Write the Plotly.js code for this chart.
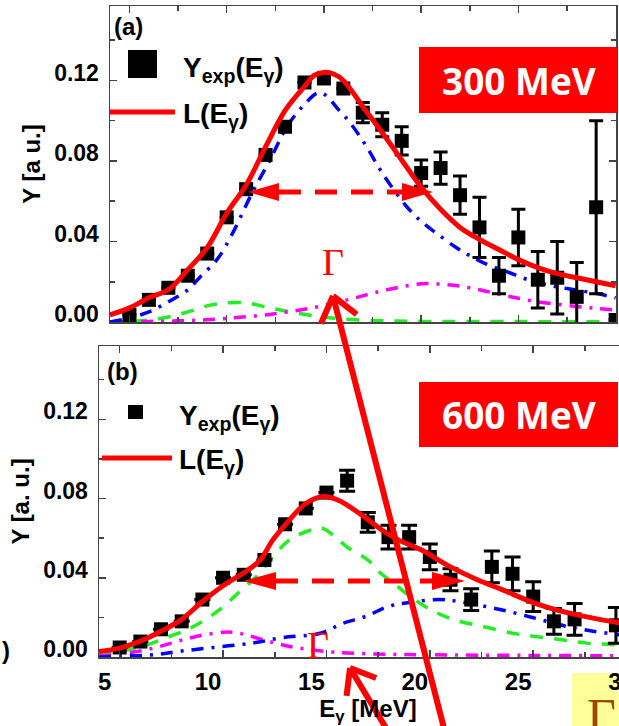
<!DOCTYPE html>
<html><head><meta charset="utf-8">
<script src="https://cdn.plot.ly/plotly-3.0.1.min.js"></script>
<style>html,body{margin:0;padding:0;overflow:hidden;background:#fff;width:619px;height:726px}</style>
</head><body><div id="chart" style="width:640px;height:726px"></div>
<script>
// ---------- Panel (a): 300 MeV ----------
const eA   = [5,6,7,8,9,10,11,12,13,14,15,16,17,18,19,20,21,22,23,24,25,26,27,28,29,30];
const yA   = [0.0035,0.011,0.017,0.023,0.034,0.052,0.066,0.083,0.097,0.119,0.121,0.116,0.104,0.098,0.090,0.074,0.0765,0.063,0.047,0.023,0.042,0.021,0.022,0.0125,0.057,0.001];
const errA = [0,0,0,0,0,0,0,0,0,0,0,0,0.005,0.006,0.007,0.0065,0.008,0.0095,0.015,0.009,0.014,0.014,0.018,0.017,0.043,0];

const LxA = [4,5,6,7,8,9,10,11,12,13,14,14.5,15,15.5,16,17,18,19,20,21,22,23,24,25,26,27,28,29,30];
const LyA = [0.0035,0.007,0.012,0.016,0.026,0.037,0.054,0.068,0.087,0.105,0.117,0.1225,0.124,0.1232,0.120,0.107,0.094,0.0805,0.067,0.056,0.047,0.041,0.036,0.031,0.027,0.024,0.022,0.020,0.018];

const BxA = [4,5,6,7,8,8.6,9.5,10.3,11.3,12.2,13.1,13.9,14.8,15.8,16.5,17.2,18,19.2,20,20.8,21.8,22.5,23.3,24.4,25.5,26.7,27.9,29.1,30];
const ByA = [0,0.002,0.005,0.010,0.016,0.022,0.031,0.044,0.064,0.080,0.097,0.107,0.114,0.105,0.097,0.087,0.074,0.058,0.050,0.044,0.037,0.033,0.029,0.025,0.021,0.018,0.016,0.014,0.012];

const GxA = [4,5,6,7,8,9,10,11,12,13,14,15,16,18,20,25,30];
const GyA = [0,0.0003,0.001,0.0025,0.005,0.008,0.0095,0.0095,0.0075,0.0055,0.0038,0.0025,0.0015,0.0006,0.0003,0.0002,0.0001];

const MxA = [4,6,8,10,12,13,14,15,16,17,18,19,20,21,22,23,24,25,26,27,28,29,30];
const MyA = [0,0.0003,0.0007,0.0018,0.0035,0.0048,0.0063,0.0082,0.0105,0.013,0.0155,0.0175,0.019,0.0188,0.0178,0.016,0.0138,0.0118,0.010,0.0088,0.0077,0.0068,0.006];

// ---------- Panel (b): 600 MeV ----------
const eB   = [5,6,7,8,9,10,11,12,13,14,15,16,17,18,19,20,21,22,23,24,25,26,27,29];
const yB   = [0.0048,0.0078,0.014,0.018,0.029,0.040,0.0415,0.049,0.067,0.075,0.083,0.089,0.068,0.0605,0.0605,0.0505,0.039,0.029,0.0455,0.042,0.0305,0.018,0.019,0.016];
const errB = [0,0,0,0,0,0,0,0,0,0,0,0.0053,0.005,0.006,0.006,0.0065,0.0055,0.0055,0.008,0.0085,0.0075,0.0065,0.008,0.009];

const LxB = [4,5,6,7,8,9,10,11,11.8,12.4,13.2,14,14.9,15.6,16.6,17.7,18.5,19.6,21,22.3,23.5,25,26.6,28.2,30];
const LyB = [0.0028,0.0045,0.008,0.013,0.019,0.028,0.036,0.0425,0.049,0.059,0.069,0.0775,0.081,0.079,0.0725,0.064,0.059,0.054,0.0455,0.039,0.034,0.0275,0.0225,0.019,0.016];

const GxB = [4,4.5,6,7.3,8.5,9.85,10.8,11.6,12.4,13.2,14.2,14.8,15.2,16,17,17.6,18.4,19,19.85,21.1,22.55,24,25,26.3,27.6,28.8,30];
const GyB = [0.001,0.002,0.005,0.010,0.015,0.024,0.033,0.0405,0.0505,0.059,0.064,0.065,0.0625,0.0555,0.049,0.0425,0.036,0.031,0.025,0.019,0.0155,0.012,0.0105,0.0088,0.007,0.0063,0.0055];

const BxB = [4,5,6.5,8,9.7,11.4,12.9,14.7,15.8,16.9,18,19,20.5,21.4,22.7,24,25.3,26.6,27.9,29,30];
const ByB = [0,0.0005,0.001,0.003,0.005,0.007,0.0098,0.012,0.017,0.0205,0.0255,0.0275,0.029,0.028,0.0255,0.0225,0.019,0.0155,0.013,0.0115,0.010];

const MxB = [4,5,6,7,8,9,10,10.5,11,12,13,14,15,16,18,20,25,30];
const MyB = [0.0005,0.0015,0.003,0.0055,0.0085,0.011,0.0125,0.0125,0.0115,0.0085,0.0058,0.004,0.0028,0.002,0.0014,0.0011,0.0008,0.0006];

// ---------- texts ----------
const panelLabels = ['(a)','(b)'];
const legendTexts = ['Y<sub>exp</sub>(E<sub>γ</sub>)','L(E<sub>γ</sub>)'];
const boxTexts = ['300 MeV','600 MeV'];
const yTitles = ['Y [a u.]','Y [a. u.]'];
const xTitle = 'E<sub>γ</sub> [MeV]';

// ---------- helpers ----------
const W=640,H=726;
const fx=p=>p/W, fy=p=>1-p/H;
const RED='#ff0000', BLUE='#0000ff', GREEN='#22ee22', MAG='#ff00ff';
const SANS='Liberation Sans, Arial, sans-serif';

function comp(x,y,color,dash,xa,ya){
  return {x:x,y:y,mode:'lines',xaxis:xa,yaxis:ya,showlegend:false,hoverinfo:'skip',
          line:{color:color,width:3.5,dash:dash,shape:'spline'}};
}
const DASHDOT='12px,8px,3px,8px', DASH='13px,11px';

const traces = [
  comp(GxA,GyA,GREEN,DASH,'x','y'),
  comp(MxA,MyA,MAG,DASHDOT,'x','y'),
  comp(BxA,ByA,BLUE,DASHDOT,'x','y'),
  {x:eA,y:yA,mode:'markers',xaxis:'x',yaxis:'y',showlegend:false,
   marker:{symbol:'square',size:14,color:'#000'},
   error_y:{type:'data',array:errA,visible:true,color:'#000',thickness:3,width:7}},
  {x:LxA,y:LyA,mode:'lines',xaxis:'x',yaxis:'y',showlegend:false,line:{color:RED,width:5,shape:'spline'}},

  comp(GxB,GyB,GREEN,DASH,'x2','y2'),
  comp(MxB,MyB,MAG,DASHDOT,'x2','y2'),
  comp(BxB,ByB,BLUE,DASHDOT,'x2','y2'),
  {x:eB,y:yB,mode:'markers',xaxis:'x2',yaxis:'y2',showlegend:false,
   marker:{symbol:'square',size:14,color:'#000'},
   error_y:{type:'data',array:errB,visible:true,color:'#000',thickness:3,width:8}},
  {x:LxB,y:LyB,mode:'lines',xaxis:'x2',yaxis:'y2',showlegend:false,line:{color:RED,width:5,shape:'spline'}}
];

function xax(domain,labels,anchor){
  return {domain:domain,range:[4,30.02],anchor:anchor,showline:true,linecolor:'#444',linewidth:1.5,mirror:'allticks',
    ticks:'inside',ticklen:7,tickwidth:1.5,tickcolor:'#444',tick0:5,dtick:5,
    minor:{dtick:2.5,ticks:'inside',ticklen:5,tickwidth:1.5,tickcolor:'#444'},
    showgrid:false,zeroline:false,showticklabels:labels,ticklabeloverflow:'allow',
    tickfont:{family:SANS,size:24,color:'#000',weight:'bold'},ticklabelshift:-15,ticklabelstandoff:3};
}
function yax(domain,anchor,title){
  return {domain:domain,range:[0,0.157],anchor:anchor,showline:true,linecolor:'#444',linewidth:1.5,mirror:'allticks',
    ticks:'inside',ticklen:7,tickwidth:1.5,tickcolor:'#444',tick0:0,dtick:0.04,tickformat:'.2f',
    minor:{dtick:0.02,ticks:'inside',ticklen:5,tickwidth:1.5,tickcolor:'#444'},
    showgrid:false,zeroline:false,tickfont:{family:SANS,size:23,color:'#000',weight:'bold'},
    ticklabelshift:-8,ticklabelstandoff:5,
    title:{text:title,font:{family:SANS,size:24,color:'#000',weight:'bold'},standoff:6}};
}

const shapes=[], annotations=[];
function rectPx(x0,y0,x1,y1,fill,layer){shapes.push({type:'rect',xref:'paper',yref:'paper',x0:fx(x0),x1:fx(x1),y0:fy(y1),y1:fy(y0),fillcolor:fill,line:{width:0},layer:layer||'above'});}
function linePx(x0,y0,x1,y1,color,width,dash){shapes.push({type:'line',xref:'paper',yref:'paper',x0:fx(x0),y0:fy(y0),x1:fx(x1),y1:fy(y1),line:{color:color,width:width,dash:dash||'solid'},layer:'above'});}
function triPx(pts,color){
  const d='M'+pts.map(p=>fx(p[0])+','+fy(p[1])).join(' L')+' Z';
  shapes.push({type:'path',xref:'paper',yref:'paper',path:d,fillcolor:color,line:{width:0},layer:'above'});
}
function textPx(x,y,text,size,color,opts){
  annotations.push(Object.assign({xref:'paper',yref:'paper',x:fx(x),y:fy(y),text:text,showarrow:false,
    font:{family:SANS,size:size,color:color,weight:'bold'},xanchor:'center',yanchor:'middle'},opts||{}));
}
function doubleArrow(xl,xr,y,len,hh){
  linePx(xl+len,y,xr-len,y,RED,5,'22px,14px');
  triPx([[xl,y],[xl+len,y-hh],[xl+len,y+hh]],RED);
  triPx([[xr,y],[xr-len,y-hh],[xr-len,y+hh]],RED);
}
function bigArrow(tip,tail,armLen,ang,width){
  linePx(tip[0],tip[1],tail[0],tail[1],RED,width);
  const dx=tail[0]-tip[0], dy=tail[1]-tip[1], L=Math.hypot(dx,dy), bx=dx/L, by=dy/L;
  [1,-1].forEach(s=>{const a=s*ang*Math.PI/180;
    const rx=bx*Math.cos(a)-by*Math.sin(a), ry=bx*Math.sin(a)+by*Math.cos(a);
    linePx(tip[0],tip[1],tip[0]+armLen*rx,tip[1]+armLen*ry,RED,width);});
}

// Panel labels
textPx(112,27,panelLabels[0],24,'#000',{xanchor:'left'});
textPx(105,371,panelLabels[1],24,'#000',{xanchor:'left'});

// Legends
rectPx(128,50,157,78,'#000');
textPx(181,50,legendTexts[0],28,'#000',{xanchor:'left',yanchor:'top'});
linePx(110,112,175,112,RED,5);
textPx(181,96,legendTexts[1],28,'#000',{xanchor:'left',yanchor:'top'});

rectPx(128,405,143,419,'#000');
textPx(177,398,legendTexts[0],28,'#000',{xanchor:'left',yanchor:'top'});
linePx(102,458,172,458,RED,5);
textPx(177,442,legendTexts[1],28,'#000',{xanchor:'left',yanchor:'top'});

// Energy boxes
rectPx(419,47,617,113,RED);
textPx(519,80,boxTexts[0],37,'#fff',{font:{family:'Open Sans, sans-serif',size:37,color:'#fff',weight:'bold'}});
rectPx(419,382,618,447,RED);
textPx(519,414,boxTexts[1],37,'#fff',{font:{family:'Open Sans, sans-serif',size:37,color:'#fff',weight:'bold'}});

// Width arrows
doubleArrow(248,433,192,31,9);
doubleArrow(243,465,581,33,9);

// Gamma labels
const SERIF='Liberation Serif, Times New Roman, serif';
textPx(333,262,'Γ',38,RED,{font:{family:SERIF,size:38,color:RED}});
textPx(318,645,'Γ',38,RED,{font:{family:SERIF,size:38,color:RED}});

// Big arrows
bigArrow([333,296],[447,740],30,38,6);
bigArrow([350,668],[392,738],28,38,6);

// Yellow box (beneath the axis labels)
rectPx(572,673,640,730,'#ffff99','below');
textPx(585,686,'Γ',50,'#9c4a00',{xanchor:'left',yanchor:'top',font:{family:SERIF,size:50,color:'#9c4a00'}});

// stray bracket at left edge
textPx(0,650,')',24,'#000',{xanchor:'left'});

const layout={
  width:W,height:H,margin:{l:0,r:0,t:0,b:0},paper_bgcolor:'#fff',plot_bgcolor:'rgba(0,0,0,0)',showlegend:false,
  xaxis:xax([110/W,616/W],false,'y'),
  yaxis:yax([1-322/H,1-6/H],'x',yTitles[0]),
  xaxis2:Object.assign(xax([99/W,637/W],true,'y2'),{title:{text:xTitle,font:{family:SANS,size:24,color:'#000',weight:'bold'},standoff:6}}),
  yaxis2:yax([1-657/H,1-346/H],'x2',yTitles[1]),
  shapes:shapes,annotations:annotations
};
Plotly.newPlot('chart',traces,layout,{staticPlot:true,displayModeBar:false});
</script></body></html>
